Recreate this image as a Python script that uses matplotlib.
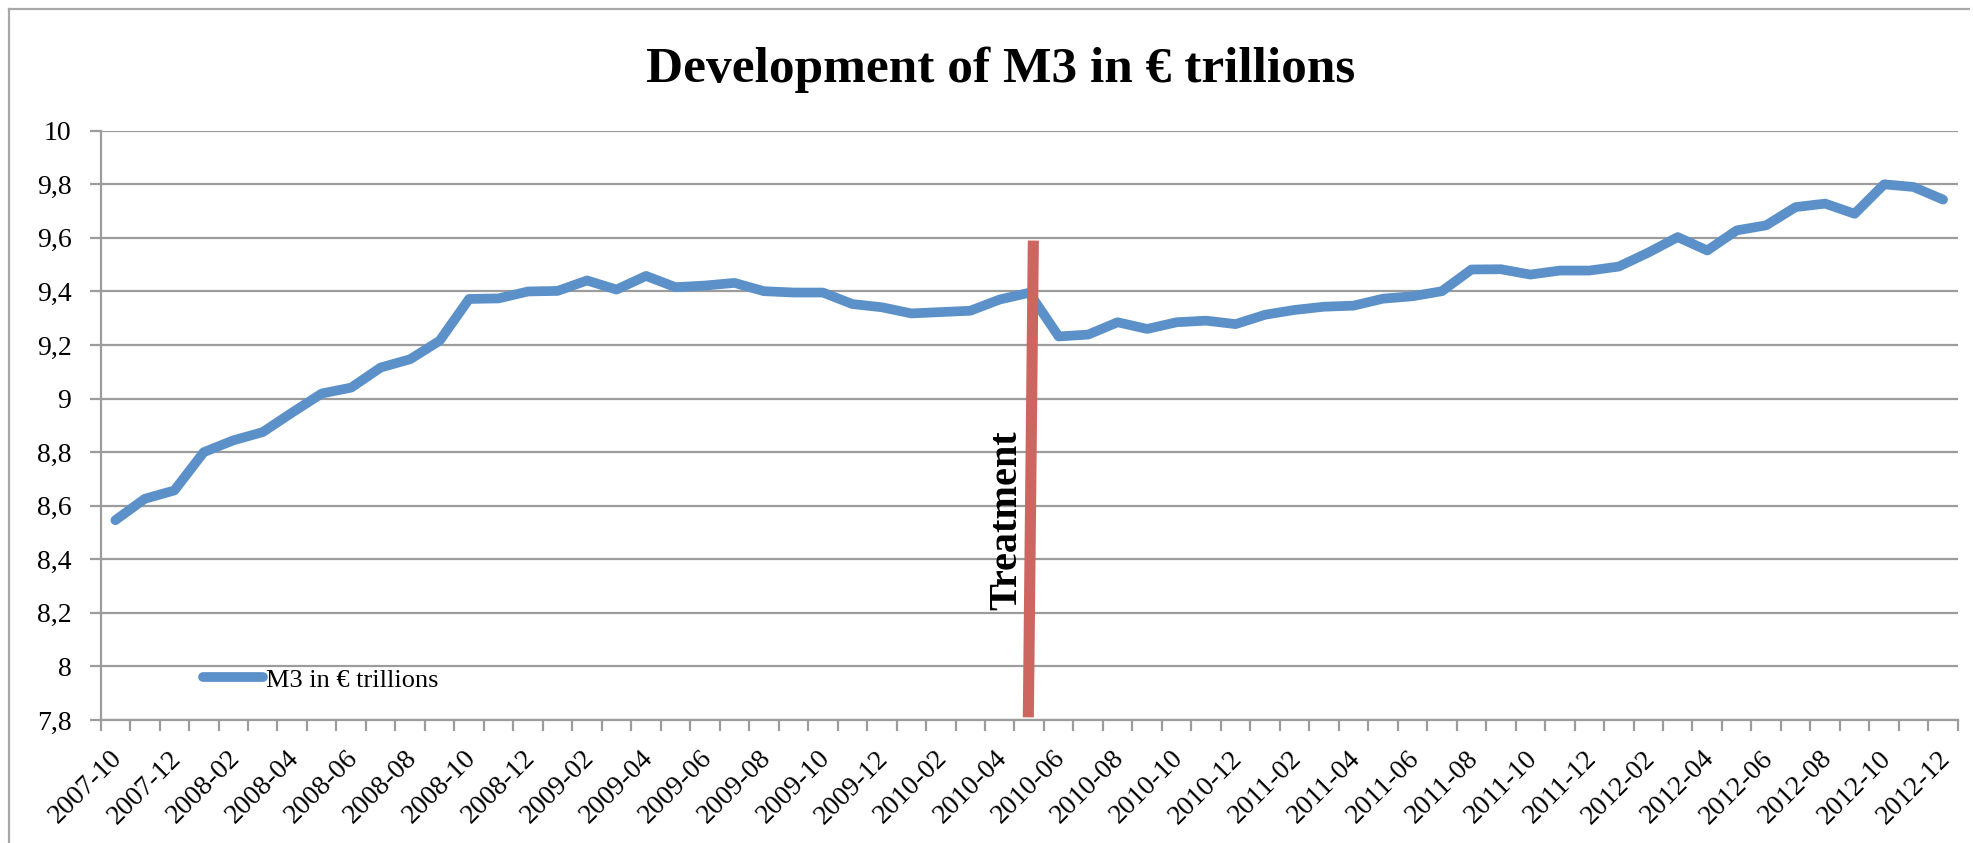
import numpy as np
import matplotlib
matplotlib.use("Agg")
import matplotlib.pyplot as plt
import matplotlib.transforms as mtransforms
from matplotlib.lines import Line2D

# ================================
# data (M3, € trillions, monthly 2007-10 .. 2012-12)
# ================================
months = [f"{y}-{m:02d}" for y in range(2007, 2013) for m in range(1, 13)]
months = months[months.index("2007-10"):]

m3 = [8.546, 8.626, 8.657, 8.800, 8.844, 8.875, 8.948, 9.019, 9.041, 9.116,
      9.147, 9.216, 9.372, 9.374, 9.400, 9.402, 9.441, 9.407, 9.458, 9.416,
      9.422, 9.432, 9.401, 9.396, 9.396, 9.353, 9.341, 9.318, 9.323, 9.328,
      9.370, 9.395, 9.232, 9.239, 9.285, 9.260, 9.285, 9.291, 9.278, 9.313,
      9.331, 9.343, 9.347, 9.373, 9.382, 9.401, 9.482, 9.483, 9.463, 9.478,
      9.478, 9.493, 9.545, 9.603, 9.553, 9.628, 9.647, 9.715, 9.728, 9.690,
      9.800, 9.790, 9.743]

yticks = [7.8, 8.0, 8.2, 8.4, 8.6, 8.8, 9.0, 9.2, 9.4, 9.6, 9.8, 10.0]
ytick_labels = ["7,8", "8", "8,2", "8,4", "8,6", "8,8", "9", "9,2", "9,4", "9,6", "9,8", "10"]

treatment_month = "2010-05"
treatment_range = (7.81, 9.59)

title = "Development of M3 in € trillions"
series_name = "M3 in € trillions"

# ================================
# style
# ================================
plt.rcParams["font.family"] = ["Liberation Serif", "DejaVu Serif"]
blue = "#5B90C8"
red = "#CD6660"
grid_col = "#9C9C9C"

fig = plt.figure(figsize=(19.73, 8.43), dpi=100)
ax = fig.add_axes([0.051, 0.1459, 0.9413, 0.699])

x = np.arange(len(months))
ax.plot(x, m3, color=blue, lw=7, solid_capstyle="round", solid_joinstyle="round",
        label=series_name, zorder=3)

# treatment marker
tx = months.index(treatment_month)
ax.plot([tx - 0.03, tx + 0.14], list(treatment_range), color=red, lw=8,
        solid_capstyle="butt", zorder=4)
ax.text(tx - 0.76, 8.546, "Treatment", rotation=90, ha="center", va="center",
        fontsize=29, fontweight="bold", zorder=5)

# axes
ax.set_xlim(-0.5, len(months) - 0.5)
ax.set_ylim(7.8, 10.0)
ax.set_yticks(yticks)
ax.set_yticklabels(ytick_labels)
ax.yaxis.grid(True, color=grid_col, lw=1.6)
ax.set_axisbelow(True)

ax.set_xticks(np.arange(len(months) + 1) - 0.5)
ax.set_xticklabels([])
ax.set_xticks(x[::2], [months[i] for i in x[::2]], minor=True)
ax.tick_params(axis="x", which="major", length=8, width=1.6, color=grid_col, direction="out")
ax.tick_params(axis="x", which="minor", length=0, pad=25, labelsize=20)
ax.tick_params(axis="y", length=8, width=1.6, color=grid_col, pad=13, labelsize=20)
shift = mtransforms.ScaledTranslation(3 / 100, 0, fig.dpi_scale_trans)
for lab in ax.get_xticklabels(minor=True):
    lab.set_rotation(45)
    lab.set_ha("right")
    lab.set_va("center")
    lab.set_rotation_mode("anchor")
    lab.set_transform(lab.get_transform() + shift)

for side in ["top", "right"]:
    ax.spines[side].set_visible(False)
for side in ["left", "bottom"]:
    ax.spines[side].set_color(grid_col)
    ax.spines[side].set_linewidth(1.6)

ax.legend(loc="center left", bbox_to_anchor=(0.055, 0.068), frameon=False,
          fontsize=19, handlelength=2.3, handletextpad=0.1, borderpad=0,
          borderaxespad=0)

fig.text(0.507, 1 - 82 / 843, title, ha="center", va="baseline",
         fontsize=37, fontweight="bold")

# chart border (only left/top visible in the crop)
fig.add_artist(Line2D([9 / 1973, 9 / 1973], [0, 1 - 9 / 843], transform=fig.transFigure,
                      color="#A8A8A8", lw=1.6))
fig.add_artist(Line2D([9 / 1973, 1969 / 1973], [1 - 9 / 843, 1 - 9 / 843],
                      transform=fig.transFigure, color="#A8A8A8", lw=1.6))

fig.savefig("out.png", dpi=100)
